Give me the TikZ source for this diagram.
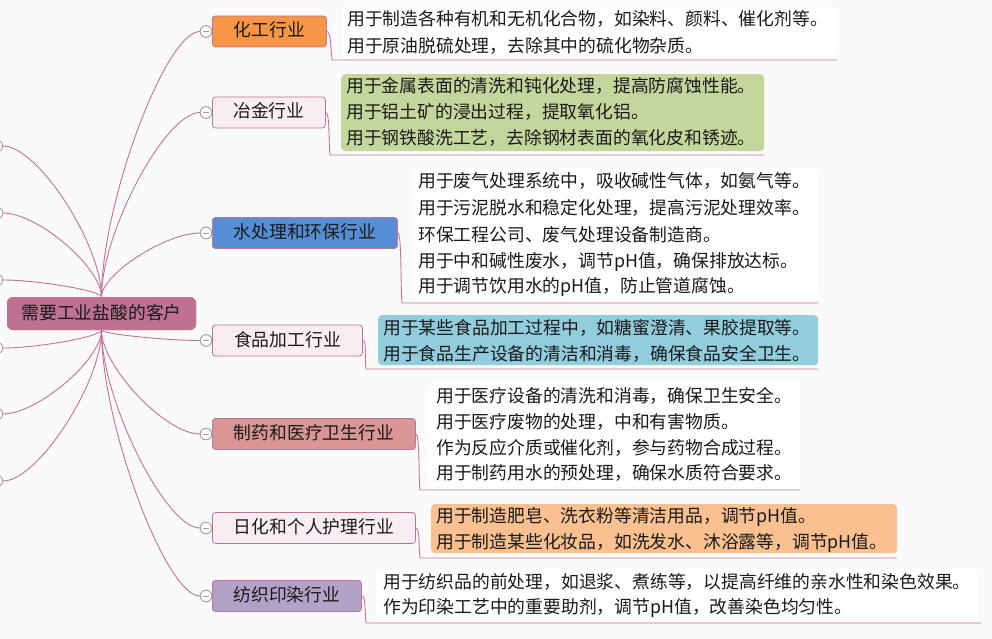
\documentclass[tikz,border=0pt]{standalone}
\usepackage{fontspec}
\setmainfont{Noto Sans CJK SC}
\usetikzlibrary{calc}
\definecolor{bg}{RGB}{250,250,250}
\definecolor{conn}{RGB}{196,114,150}
\definecolor{rootfill}{RGB}{191,113,145}
\definecolor{orangeA}{RGB}{247,150,70}
\definecolor{pinkL}{RGB}{248,237,243}
\definecolor{blueA}{RGB}{85,142,213}
\definecolor{roseA}{RGB}{217,150,148}
\definecolor{lavA}{RGB}{179,162,199}
\definecolor{greenA}{RGB}{195,214,155}
\definecolor{cyanA}{RGB}{146,205,221}
\definecolor{peachA}{RGB}{250,192,144}
\definecolor{txt}{RGB}{26,26,26}
\definecolor{btn}{RGB}{160,160,160}
\newcommand{\mybranch}[2]{\draw[connline] (#1) .. controls ($(#1)!0.35!(#1|-#2)$) and ($(#2)!0.35!(#1|-#2)$) .. (#2);}
\begin{document}
\begin{tikzpicture}[x=1pt,y=-1pt,
  every node/.style={font=\fontsize{17.8pt}{22pt}\selectfont, text=txt},
  connline/.style={draw=conn, line width=0.9pt},
  branchbox/.style={draw=conn, line width=0.8pt, rounded corners=3pt, anchor=west,
    minimum height=31pt, inner sep=0pt, text height=1.1em, text depth=0em},
  rootbox/.style={fill=rootfill, rounded corners=6pt, minimum width=189pt,
    minimum height=33pt, inner sep=0pt, text height=1.1em, text depth=0em},
  tbox/.style={draw=none, rounded corners=4pt, inner sep=0pt, anchor=north west},
  ln/.style={anchor=west, inner sep=0pt, text height=1.1em, text depth=0em},
  colbtn/.style={circle, draw=btn, fill=white, line width=0.8pt, minimum size=11.5pt, inner sep=0pt,
    path picture={\draw[btn, line width=0.8pt] ([xshift=2.3pt]path picture bounding box.west) -- ([xshift=-2.3pt]path picture bounding box.east);}}
]
\useasboundingbox (0,0) rectangle (992,639);
\clip (0,0) rectangle (992,639);
\fill[bg] (0,0) rectangle (992,639);

% root
\node[rootbox] (root) at (101.5,313.5) {需要工业盐酸的客户};

% left collapsed branches
\node[colbtn] (L1) at (-3,146) {};
\node[colbtn] (L2) at (-3,213) {};
\node[colbtn] (L3) at (-3,280) {};
\node[colbtn] (L4) at (-3,348) {};
\node[colbtn] (L5) at (-3,414) {};
\node[colbtn] (L6) at (-3,481) {};

% right buttons
\node[colbtn] (C1) at (206,31.5) {};
\node[colbtn] (C2) at (206,112.5) {};
\node[colbtn] (C3) at (206,233) {};
\node[colbtn] (C4) at (206,340.5) {};
\node[colbtn] (C5) at (206,434) {};
\node[colbtn] (C6) at (206,528) {};
\node[colbtn] (C7) at (206,596) {};

% curves
\mybranch{root.north}{L1.east}
\mybranch{root.north}{L2.east}
\mybranch{root.north}{L3.east}
\mybranch{root.south}{L4.east}
\mybranch{root.south}{L5.east}
\mybranch{root.south}{L6.east}
\mybranch{root.north}{C1.west}
\mybranch{root.north}{C2.west}
\mybranch{root.north}{C3.west}
\mybranch{root.south}{C4.west}
\mybranch{root.south}{C5.west}
\mybranch{root.south}{C6.west}
\mybranch{root.south}{C7.west}

% redraw root on top
\node[rootbox] at (root.center) {需要工业盐酸的客户};

% branch boxes
\node[branchbox, fill=orangeA, minimum width=114pt] (B1) at (212,31.5) {化工行业};
\node[branchbox, fill=pinkL, minimum width=113pt] (B2) at (212,112.5) {冶金行业};
\node[branchbox, fill=blueA, minimum width=185pt] (B3) at (212,233) {水处理和环保行业};
\node[branchbox, fill=pinkL, minimum width=150pt] (B4) at (212,340.5) {食品加工行业};
\node[branchbox, fill=roseA, minimum width=203pt] (B5) at (212,434) {制药和医疗卫生行业};
\node[branchbox, fill=pinkL, minimum width=203pt] (B6) at (212,528) {日化和个人护理行业};
\node[branchbox, fill=lavA, minimum width=149pt] (B7) at (212,596) {纺织印染行业};

% buttons on top
\foreach \n in {C1,C2,C3,C4,C5,C6,C7}
  \node[colbtn] at (\n.center) {};

% text backgrounds
\node[tbox, fill=white, minimum width=495pt, minimum height=51pt] (T1) at (342,7) {};
\node[tbox, fill=greenA, minimum width=423pt, minimum height=77pt] (T2) at (341,74) {};
\node[tbox, fill=white, minimum width=405pt, minimum height=130pt] (T3) at (413,168) {};
\node[tbox, fill=cyanA, minimum width=440pt, minimum height=50pt] (T4) at (378,315) {};
\node[tbox, fill=white, minimum width=372pt, minimum height=105pt] (T5) at (428,382) {};
\node[tbox, fill=peachA, minimum width=466pt, minimum height=49pt] (T6) at (431,504) {};
\node[tbox, fill=white, minimum width=602pt, minimum height=51pt] (T7) at (376,569) {};

% underline coordinates
\coordinate (U1s) at (332,60);  \coordinate (U1e) at (837,60);
\coordinate (U2s) at (330,155); \coordinate (U2e) at (764,155);
\coordinate (U3s) at (402,303); \coordinate (U3e) at (818,303);
\coordinate (U4s) at (366,369); \coordinate (U4e) at (818,369);
\coordinate (U5s) at (420,490); \coordinate (U5e) at (800,490);
\coordinate (U6s) at (420,558); \coordinate (U6e) at (897,558);
\coordinate (U7s) at (366,623); \coordinate (U7e) at (981,623);

\foreach \k in {1,...,7}
  \draw[connline] (B\k.east) .. controls +(4,0) and +(-1.5,-14) .. (U\k s) -- (U\k e);

% texts
\node[ln] (t11) at (347,20) {用于制造各种有机和无机化合物，如染料、颜料、催化剂等。};
\node[ln] (t12) at (347,47) {用于原油脱硫处理，去除其中的硫化物杂质。};

\node[ln] (t21) at (346,87) {用于金属表面的清洗和钝化处理，提高防腐蚀性能。};
\node[ln] (t22) at (346,113) {用于铝土矿的浸出过程，提取氧化铝。};
\node[ln] (t23) at (346,139) {用于钢铁酸洗工艺，去除钢材表面的氧化皮和锈迹。};

\node[ln] (t31) at (418,182) {用于废气处理系统中，吸收碱性气体，如氨气等。};
\node[ln] (t32) at (418,209) {用于污泥脱水和稳定化处理，提高污泥处理效率。};
\node[ln] (t33) at (418,236) {环保工程公司、废气处理设备制造商。};
\node[ln] (t34) at (418,262) {用于中和碱性废水，调节pH值，确保排放达标。};
\node[ln] (t35) at (418,287) {用于调节饮用水的pH值，防止管道腐蚀。};

\node[ln] (t41) at (383,329) {用于某些食品加工过程中，如糖蜜澄清、果胶提取等。};
\node[ln] (t42) at (383,355) {用于食品生产设备的清洁和消毒，确保食品安全卫生。};

\node[ln] (t51) at (436,397) {用于医疗设备的清洗和消毒，确保卫生安全。};
\node[ln] (t52) at (436,423) {用于医疗废物的处理，中和有害物质。};
\node[ln] (t53) at (436,449) {作为反应介质或催化剂，参与药物合成过程。};
\node[ln] (t54) at (436,474) {用于制药用水的预处理，确保水质符合要求。};

\node[ln] (t61) at (436,517) {用于制造肥皂、洗衣粉等清洁用品，调节pH值。};
\node[ln] (t62) at (436,543) {用于制造某些化妆品，如洗发水、沐浴露等，调节pH值。};

\node[ln] (t71) at (383,583) {用于纺织品的前处理，如退浆、煮练等，以提高纤维的亲水性和染色效果。};
\node[ln] (t72) at (383,608) {作为印染工艺中的重要助剂，调节pH值，改善染色均匀性。};
\end{tikzpicture}
\end{document}
